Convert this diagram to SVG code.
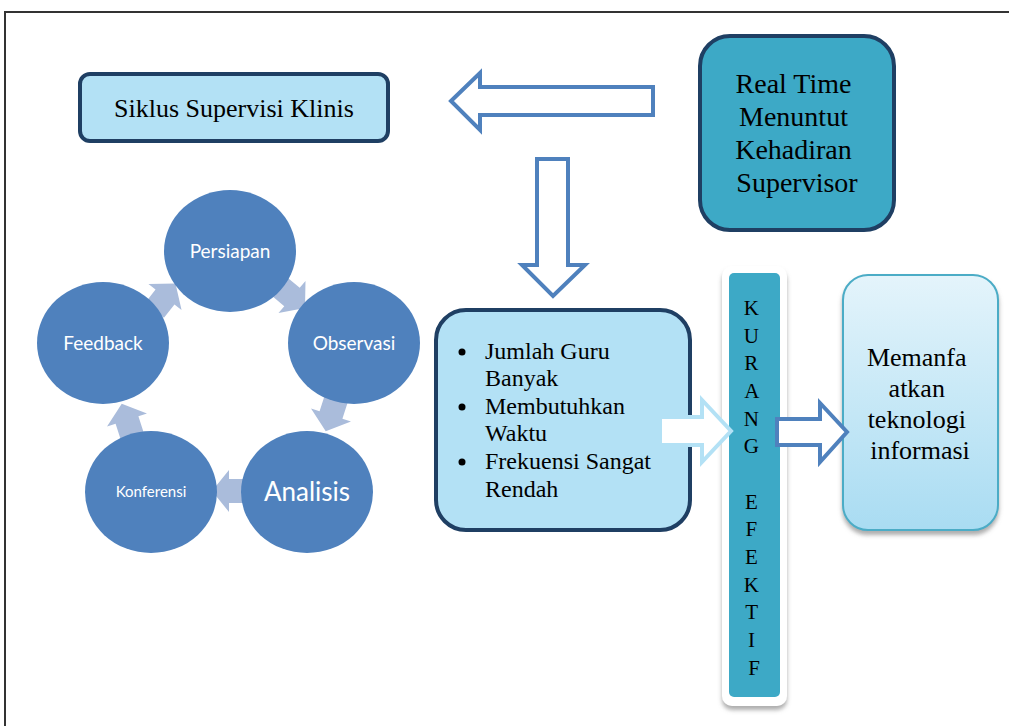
<svg xmlns="http://www.w3.org/2000/svg" width="1009" height="726" viewBox="0 0 1009 726">
<style>
.serif{font-family:"Liberation Serif","Times New Roman",serif;fill:#000}
.sans{font-family:Lato,"Open Sans",sans-serif;fill:#fff}
.dark{stroke:#1F3F63;stroke-width:4}
.circ{fill:#4F81BD}
.cyc{fill:#AABCDB}
.hollow{fill:#fff;stroke:#4F81BD;stroke-width:4}
</style>
<defs>
<path id="ca" d="M-17,-12 L0,-12 L0,-21 L17,0 L0,21 L0,12 L-17,12 Z"/>
<linearGradient id="g1" x1="0" y1="0" x2="0" y2="1">
<stop offset="0" stop-color="#E4F4FB"/>
<stop offset="1" stop-color="#A9DCF2"/>
</linearGradient>
<filter id="sh" x="-20%" y="-20%" width="140%" height="140%">
<feDropShadow dx="0" dy="4" stdDeviation="2" flood-color="#777" flood-opacity="0.6"/>
</filter>
</defs>
<rect x="5" y="12" width="1020" height="730" fill="none" stroke="#333" stroke-width="2"/>

<g id="siklus">
<rect x="80" y="74" width="308" height="67" rx="10" fill="#B3E1F5" class="dark"/>
<text class="serif" x="234" y="117" font-size="26" text-anchor="middle">Siklus Supervisi Klinis</text>
</g>

<g id="realtime">
<rect x="700" y="36" width="194" height="194" rx="30" fill="#3DA9C6" class="dark"/>
<text class="serif" font-size="28" text-anchor="middle">
<tspan x="797" y="93">Real Time</tspan>
<tspan x="797" y="126">Menuntut</tspan>
<tspan x="797" y="159">Kehadiran</tspan>
<tspan x="797" y="192">Supervisor</tspan>
</text>
</g>

<g id="masalah">
<rect x="436" y="310" width="254" height="220" rx="30" fill="#B3E1F5" class="dark"/>
<g fill="#000">
<circle cx="462" cy="352" r="3.5"/>
<circle cx="462" cy="407" r="3.5"/>
<circle cx="462" cy="462" r="3.5"/>
</g>
<text class="serif" font-size="24">
<tspan x="485" y="359">Jumlah Guru</tspan>
<tspan x="485" y="386">Banyak</tspan>
<tspan x="485" y="414">Membutuhkan</tspan>
<tspan x="485" y="441">Waktu</tspan>
<tspan x="485" y="469">Frekuensi Sangat</tspan>
<tspan x="485" y="497">Rendah</tspan>
</text>
</g>

<g id="kurang">
<rect x="722" y="266" width="65" height="440" rx="10" fill="#fff" filter="url(#sh)"/>
<rect x="729" y="273" width="51" height="424" rx="5" fill="#3DA9C6"/>
<text class="serif" font-size="21" text-anchor="middle">
<tspan x="754" y="315">K</tspan>
<tspan x="754" y="343">U</tspan>
<tspan x="754" y="370">R</tspan>
<tspan x="754" y="398">A</tspan>
<tspan x="754" y="426">N</tspan>
<tspan x="754" y="453">G</tspan>
<tspan x="754" y="509">E</tspan>
<tspan x="754" y="536">F</tspan>
<tspan x="754" y="564">E</tspan>
<tspan x="754" y="592">K</tspan>
<tspan x="754" y="619">T</tspan>
<tspan x="754" y="647">I</tspan>
<tspan x="754" y="675">F</tspan>
</text>
</g>

<g id="memanfaatkan">
<rect x="843" y="275" width="155" height="255" rx="25" fill="url(#g1)" stroke="#4BACC6" stroke-width="2" filter="url(#sh)"/>
<text class="serif" font-size="26" text-anchor="middle">
<tspan x="920" y="366">Memanfa</tspan>
<tspan x="920" y="397">atkan</tspan>
<tspan x="920" y="428">teknologi</tspan>
<tspan x="920" y="459">informasi</tspan>
</text>
</g>

<g id="connectors">
<path class="hollow" d="M451,101 L480,73 L480,87 L653,87 L653,115 L480,115 L480,130 Z"/>
<path class="hollow" d="M537,159 L568,159 L568,265 L585,265 L553,296 L522,265 L537,265 Z"/>
<path d="M660,417 L702,417 L702,400 L731,431 L702,462 L702,445 L660,445 Z" fill="#fff" stroke="#B3E1F5" stroke-width="4"/>
<path class="hollow" d="M777,419 L820,419 L820,403 L847,432 L820,462 L820,445 L777,445 Z"/>
<use href="#ca" class="cyc" transform="translate(165,297) rotate(-52)"/>
<use href="#ca" class="cyc" transform="translate(292,297) rotate(40)"/>
<use href="#ca" class="cyc" transform="translate(331,415) rotate(108)"/>
<use href="#ca" class="cyc" transform="translate(229,491) rotate(180)"/>
<use href="#ca" class="cyc" transform="translate(127,420) rotate(-108)"/>
</g>

<g id="persiapan">
<ellipse class="circ" cx="230" cy="251" rx="66" ry="61"/>
<text class="sans" x="230" y="258" font-size="19" text-anchor="middle">Persiapan</text>
</g>
<g id="observasi">
<ellipse class="circ" cx="354" cy="343" rx="66" ry="61"/>
<text class="sans" x="354" y="350" font-size="19" text-anchor="middle">Observasi</text>
</g>
<g id="analisis">
<ellipse class="circ" cx="307" cy="492" rx="66" ry="61"/>
<text class="sans" x="307" y="501" font-size="26" text-anchor="middle">Analisis</text>
</g>
<g id="konferensi">
<ellipse class="circ" cx="151" cy="492" rx="66" ry="61"/>
<text class="sans" x="151" y="497" font-size="15" text-anchor="middle">Konferensi</text>
</g>
<g id="feedback">
<ellipse class="circ" cx="103" cy="343" rx="66" ry="61"/>
<text class="sans" x="103" y="350" font-size="19" text-anchor="middle">Feedback</text>
</g>
</svg>
